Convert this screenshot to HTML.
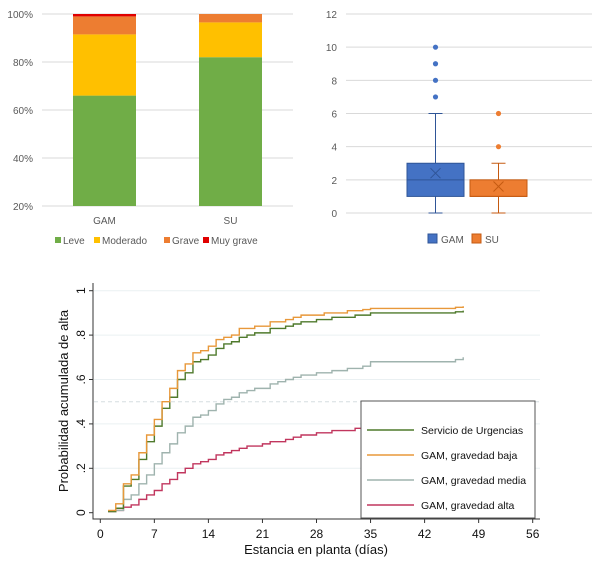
<!DOCTYPE html>
<html><head><meta charset="utf-8">
<style>
body{margin:0;background:#fff;font-family:"Liberation Sans",sans-serif;}
svg{display:block}
</style></head>
<body>
<svg id="s" width="600" height="580" xmlns="http://www.w3.org/2000/svg"></svg>
<script>
// ---- Data: stacked bar chart ----
const barCats = ["GAM","SU"];
const leve = [66, 82];
const moderado = [25.5, 14.5];
const grave = [7.5, 3.5];
const muyGrave = [1, 0];
const pctTicks = [20,40,60,80,100];
// ---- Data: boxplot ----
const boxCats = ["GAM","SU"];
const boxMin = [0,0];
const boxQ1 = [1,1];
const boxMed = [2,1];
const boxQ3 = [3,2];
const boxMax = [6,3];
const boxMean = [2.4,1.6];
const outGAM = [7,8,9,10];
const outSU = [4,6];
const boxTicks = [0,2,4,6,8,10,12];
// ---- Data: cumulative incidence ----
const days = [1,2,3,4,5,6,7,8,9,10,11,12,13,14,15,16,17,18,19,20,21,22,23,24,25,26,27,28,29,30,31,32,33,34,35,45,46,47];
const servicio = [0.005,0.02,0.12,0.15,0.24,0.32,0.39,0.47,0.52,0.60,0.63,0.68,0.69,0.71,0.74,0.76,0.77,0.79,0.80,0.81,0.81,0.83,0.83,0.84,0.85,0.86,0.86,0.87,0.87,0.88,0.88,0.88,0.89,0.89,0.90,0.90,0.905,0.91];
const baja = [0.01,0.04,0.13,0.17,0.27,0.35,0.42,0.50,0.56,0.64,0.67,0.72,0.73,0.75,0.78,0.79,0.80,0.83,0.83,0.84,0.84,0.86,0.86,0.87,0.88,0.89,0.89,0.89,0.90,0.90,0.90,0.91,0.91,0.915,0.92,0.92,0.925,0.93];
const media = [0.005,0.01,0.06,0.08,0.13,0.17,0.22,0.27,0.31,0.36,0.39,0.43,0.44,0.46,0.49,0.51,0.52,0.54,0.55,0.56,0.56,0.58,0.59,0.60,0.61,0.62,0.62,0.63,0.63,0.64,0.64,0.65,0.65,0.66,0.68,0.68,0.69,0.70];
const alta = [0.005,0.01,0.025,0.035,0.06,0.08,0.10,0.13,0.15,0.18,0.20,0.22,0.23,0.24,0.26,0.27,0.28,0.29,0.30,0.30,0.31,0.32,0.32,0.33,0.34,0.35,0.35,0.36,0.36,0.37,0.37,0.37,0.38,0.38,0.38,0.39,0.395,0.40];
const xTicks = [0,7,14,21,28,35,42,49,56];
const yTicks = [0,0.2,0.4,0.6,0.8,1];
const yTickLabels = ["0",".2",".4",".6",".8","1"];

const NS="http://www.w3.org/2000/svg";
const svg=document.getElementById('s');
function mk(tag,attrs,parent,text){const e=document.createElementNS(NS,tag);for(const k in attrs)e.setAttribute(k,attrs[k]);if(text!==undefined)e.textContent=text;(parent||svg).appendChild(e);return e;}

// ===== Chart 1: stacked bars =====
const g1=mk('g',{});


const py=v=>206-(v-20)*(192/80);
pctTicks.forEach(t=>{
  const l=mk('line',{x1:42,x2:293,y1:py(t),y2:py(t),stroke:'#d9d9d9','stroke-width':1},g1);
  
  
  const tx=mk('text',{x:33,y:py(t)+4,'text-anchor':'end','font-size':10,fill:'#595959'},g1,t+'%');
  
  
});
const barX=[73,199], barW=63;
const segs=[[leve,'#70ad47','leve'],[moderado,'#ffc000','moderado'],[grave,'#ed7d31','grave'],[muyGrave,'#e00000','muy-grave']];
barCats.forEach((c,i)=>{
  let base=0;
  segs.forEach(([arr,col,nm])=>{
    const lo=Math.max(base,20), hi=base+arr[i];
    if(hi>lo){
      const r=mk('rect',{x:barX[i],y:py(hi),width:barW,height:py(lo)-py(hi),fill:col},g1);
      
      
    }
    base=hi;
  });
  const t=mk('text',{x:barX[i]+barW/2,y:224,'text-anchor':'middle','font-size':10,fill:'#595959'},g1,c);
  
  
});
const leg1=[['Leve','#70ad47',55],['Moderado','#ffc000',94],['Grave','#ed7d31',164],['Muy grave','#e00000',203]];
leg1.forEach(([n,c,x])=>{
  const r=mk('rect',{x:x,y:237,width:6,height:6,fill:c},g1);
  
  
  const t=mk('text',{x:x+8,y:244,'font-size':10,fill:'#595959'},g1,n);
  
  
});

// ===== Chart 2: boxplot =====
const g2=mk('g',{});


const by=v=>213-v*(199/12);
boxTicks.forEach(t=>{
  const l=mk('line',{x1:346,x2:592,y1:by(t),y2:by(t),stroke:'#d9d9d9','stroke-width':1},g2);
  
  
  const tx=mk('text',{x:337,y:by(t)+4,'text-anchor':'end','font-size':10,fill:'#595959'},g2,t);
  
  
});
const boxCx=[435.5,498.5], boxW=57;
const boxFill=['#4472c4','#ed7d31'], boxStroke=['#2f5597','#c55a11'];
const outs=[outGAM,outSU];
boxCats.forEach((c,i)=>{
  const cx=boxCx[i], st=boxStroke[i];
  [[boxMin[i],boxQ1[i]],[boxQ3[i],boxMax[i]]].forEach(([a,b])=>{
    const w=mk('line',{x1:cx,x2:cx,y1:by(a),y2:by(b),stroke:st,'stroke-width':1},g2);
    
    
  });
  [boxMin[i],boxMax[i]].forEach(v=>{
    const cap=mk('line',{x1:cx-7,x2:cx+7,y1:by(v),y2:by(v),stroke:st,'stroke-width':1},g2);
    
    
  });
  const r=mk('rect',{x:cx-boxW/2,y:by(boxQ3[i]),width:boxW,height:by(boxQ1[i])-by(boxQ3[i]),fill:boxFill[i],stroke:st,'stroke-width':1},g2);
  
  
  const m=mk('line',{x1:cx-boxW/2,x2:cx+boxW/2,y1:by(boxMed[i]),y2:by(boxMed[i]),stroke:st,'stroke-width':1},g2);
  
  
  const my=by(boxMean[i]);
  const mp=mk('path',{d:`M${cx-5},${my-5}L${cx+5},${my+5}M${cx+5},${my-5}L${cx-5},${my+5}`,stroke:st,'stroke-width':1,fill:'none'},g2);
  
  
  outs[i].forEach(v=>{
    const o=mk('circle',{cx:cx,cy:by(v),r:2.6,fill:boxFill[i]},g2);
    
    
  });
});
[['GAM','#4472c4',428],['SU','#ed7d31',472]].forEach(([n,c,x])=>{
  const r=mk('rect',{x:x,y:234,width:9,height:9,fill:c,stroke:n==='GAM'?'#2f5597':'#c55a11'},g2);
  
  
  const t=mk('text',{x:x+13,y:243,'font-size':10,fill:'#595959'},g2,n);
  
  
});

// ===== Chart 3: cumulative incidence =====
const g3=mk('g',{});


const X=d=>100.3+d*(432.4/56);
const Y=v=>512.7-v*222;
yTicks.forEach(t=>{
  if(t>0){const l=mk('line',{x1:94,x2:540,y1:Y(t),y2:Y(t),stroke:'#eaf0f2','stroke-width':1},g3);
  
  }
});
const ref=mk('line',{x1:94,x2:540,y1:Y(0.5),y2:Y(0.5),stroke:'#d5dde0','stroke-width':1,'stroke-dasharray':'4,3'},g3);


const ax=mk('path',{d:`M93,283V519H540`,stroke:'#333','stroke-width':1,fill:'none'},g3);


yTicks.forEach((t,i)=>{
  const tk=mk('line',{x1:89,x2:93,y1:Y(t),y2:Y(t),stroke:'#333'},g3);
  
  
  const tx=mk('text',{x:0,y:0,transform:`translate(85,${Y(t)}) rotate(-90)`,'text-anchor':'middle','font-size':12,fill:'#111'},g3,yTickLabels[i]);
  
  
});
xTicks.forEach(t=>{
  const tk=mk('line',{x1:X(t),x2:X(t),y1:519,y2:523,stroke:'#333'},g3);
  
  
  const tx=mk('text',{x:X(t),y:538,'text-anchor':'middle','font-size':12,fill:'#111'},g3,t);
  
  
});
const xt=mk('text',{x:316,y:554,'text-anchor':'middle','font-size':13,fill:'#111'},g3,'Estancia en planta (días)');


const yt=mk('text',{x:0,y:0,transform:'translate(68,401) rotate(-90)','text-anchor':'middle','font-size':13,fill:'#111'},g3,'Probabilidad acumulada de alta');


function step(arr){let d=`M${X(days[0])},${Y(arr[0])}`;for(let i=1;i<days.length;i++){d+=`H${X(days[i])}V${Y(arr[i])}`;}return d;}
const series=[[alta,'#c1365e','gam-alta'],[media,'#9fb3ae','gam-media'],[servicio,'#4f7a2c','servicio-urgencias'],[baja,'#e8983a','gam-baja']];
series.forEach(([a,c,n])=>{
  const p=mk('path',{d:step(a),stroke:c,'stroke-width':1.4,fill:'none'},g3);
  
  
});
const lg=mk('g',{},g3);


mk('rect',{x:361,y:401,width:174,height:117,fill:'#fff',stroke:'#555','stroke-width':1},lg);
[['Servicio de Urgencias','#4f7a2c'],['GAM, gravedad baja','#e8983a'],['GAM, gravedad media','#9fb3ae'],['GAM, gravedad alta','#c1365e']].forEach(([n,c],i)=>{
  const y=430+i*25;
  const l=mk('line',{x1:367,x2:414,y1:y,y2:y,stroke:c,'stroke-width':1.4},lg);
  
  
  const t=mk('text',{x:421,y:y+4,'font-size':10.5,fill:'#111'},lg,n);
  
  
});
</script>
</body></html>
